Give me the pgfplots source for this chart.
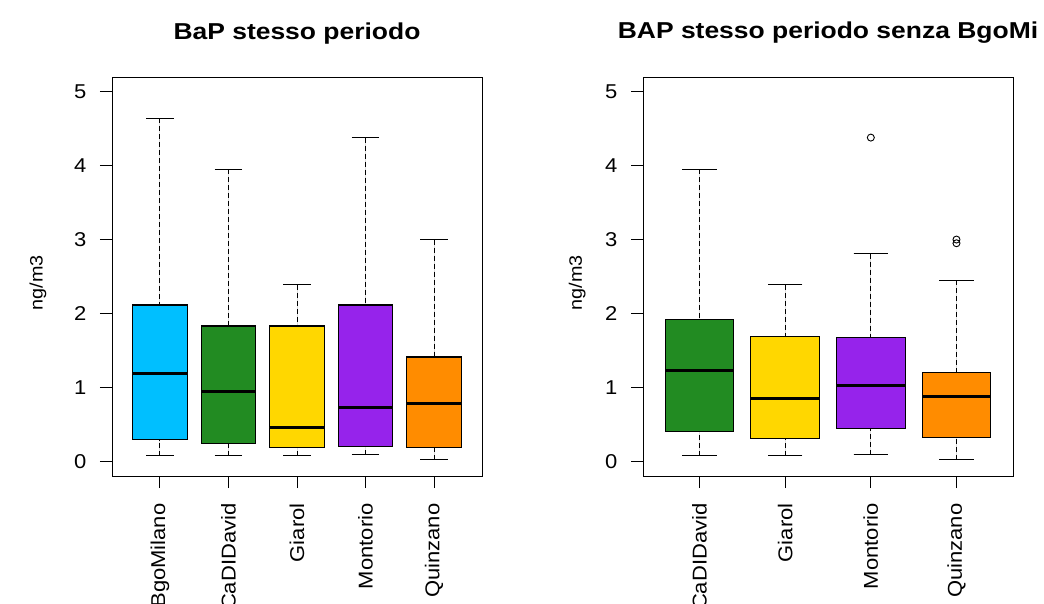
\documentclass[border=0pt]{standalone}
\usepackage{pgfplots}
\pgfplotsset{compat=1.18}
\usepgfplotslibrary{statistics}
\usepackage{fontspec}
\setmainfont{Liberation Sans}[FakeStretch=1.1]
\newfontfamily\titlefont{Liberation Sans Bold}[FakeStretch=1.15]
\definecolor{cBlue}{RGB}{0,191,255}
\definecolor{cGreen}{RGB}{34,139,34}
\definecolor{cGold}{RGB}{255,215,0}
\definecolor{cPurple}{RGB}{150,35,235}
\definecolor{cOrange}{RGB}{255,140,0}
\pgfplotsset{
  rframe/.style={
    scale only axis, width=370pt, height=399pt,
    ymin=-0.2, ymax=5.2, ytick={0,1,2,3,4,5},
    tick align=outside, major tick length=12pt,
    xtick pos=bottom, ytick pos=left,
    axis line style={black, line width=1pt},
    tick style={black, line width=1pt},
    /pgf/number format/assume math mode=true,
    yticklabel style={font=\fontsize{20}{24}\selectfont, anchor=east},
    yticklabel shift=10pt,
    xticklabel style={font=\fontsize{20}{24}\selectfont, rotate=90, anchor=east},
    xticklabel shift=12pt,
    ylabel={ng/m3},
    ylabel style={font=\fontsize{18}{22}\selectfont, anchor=center, rotate=0},
    title style={font=\titlefont\fontsize{23}{27}\selectfont, anchor=center, at={(axis description cs:0.5,1.095)}},
    boxplot/draw direction=y,
    boxplot/box extend=0.8,
    boxplot/whisker extend=0.4,
    boxplot/every median/.style={line width=3pt},
    boxplot/draw/lower whisker/.code={%
      \draw[black, line width=1pt, dash pattern=on 5pt off 3pt]
        (boxplot box cs:\pgfplotsboxplotvalue{lower whisker},0.5) --
        (boxplot box cs:\pgfplotsboxplotvalue{lower quartile},0.5);
      \draw[black, line width=1pt, solid]
        (boxplot whisker cs:\pgfplotsboxplotvalue{lower whisker},0) --
        (boxplot whisker cs:\pgfplotsboxplotvalue{lower whisker},1);
    },
    boxplot/draw/upper whisker/.code={%
      \draw[black, line width=1pt, dash pattern=on 5pt off 3pt]
        (boxplot box cs:\pgfplotsboxplotvalue{upper whisker},0.5) --
        (boxplot box cs:\pgfplotsboxplotvalue{upper quartile},0.5);
      \draw[black, line width=1pt, solid]
        (boxplot whisker cs:\pgfplotsboxplotvalue{upper whisker},0) --
        (boxplot whisker cs:\pgfplotsboxplotvalue{upper whisker},1);
    },
  },
  rbx/.style={fill=#1, draw=black, line width=1.1pt, mark=o, mark size=3.5pt,
    mark options={solid, line width=0.9pt, draw=black}},
}
\begin{document}
\begin{tikzpicture}
\path[use as bounding box] (0,0) rectangle (1044pt,603pt);
\begin{axis}[rframe, at={(112pt,127pt)}, anchor=south west,
  xmin=0.3, xmax=5.7, xtick={1,2,3,4,5},
  xticklabels={BgoMilano,CaDIDavid,Giarol,Montorio,Quinzano},
  ylabel style={at={(axis description cs:-0.2,0.484)}},
  title={BaP stesso periodo}]
\addplot[rbx=cBlue, boxplot prepared={draw position=1, lower whisker=0.072, lower quartile=0.294, median=1.187, upper quartile=2.115, upper whisker=4.64}] coordinates {};
\addplot[rbx=cGreen, boxplot prepared={draw position=2, lower whisker=0.072, lower quartile=0.235, median=0.95, upper quartile=1.83, upper whisker=3.95}] coordinates {};
\addplot[rbx=cGold, boxplot prepared={draw position=3, lower whisker=0.072, lower quartile=0.186, median=0.457, upper quartile=1.83, upper whisker=2.387}] coordinates {};
\addplot[rbx=cPurple, boxplot prepared={draw position=4, lower whisker=0.09, lower quartile=0.2, median=0.729, upper quartile=2.115, upper whisker=4.38}] coordinates {};
\addplot[rbx=cOrange, boxplot prepared={draw position=5, lower whisker=0.018, lower quartile=0.186, median=0.788, upper quartile=1.41, upper whisker=3.0}] coordinates {};
\end{axis}
\begin{axis}[rframe, at={(643pt,127pt)}, anchor=south west,
  xmin=0.34, xmax=4.66, xtick={1,2,3,4},
  xticklabels={CaDIDavid,Giarol,Montorio,Quinzano},
  ylabel style={at={(axis description cs:-0.178,0.484)}},
  title={BAP stesso periodo senza BgoMi}]
\addplot[rbx=cGreen, boxplot prepared={draw position=1, lower whisker=0.072, lower quartile=0.403, median=1.223, upper quartile=1.92, upper whisker=3.95}] coordinates {};
\addplot[rbx=cGold, boxplot prepared={draw position=2, lower whisker=0.072, lower quartile=0.3125, median=0.847, upper quartile=1.694, upper whisker=2.387}] coordinates {};
\addplot[rbx=cPurple, boxplot prepared={draw position=3, lower whisker=0.09, lower quartile=0.44, median=1.028, upper quartile=1.68, upper whisker=2.81}] table[row sep=\\, y index=0] {4.38\\};
\addplot[rbx=cOrange, boxplot prepared={draw position=4, lower whisker=0.018, lower quartile=0.326, median=0.874, upper quartile=1.205, upper whisker=2.45}] table[row sep=\\, y index=0] {2.95\\ 3.0\\};
\end{axis}
\end{tikzpicture}
\end{document}
